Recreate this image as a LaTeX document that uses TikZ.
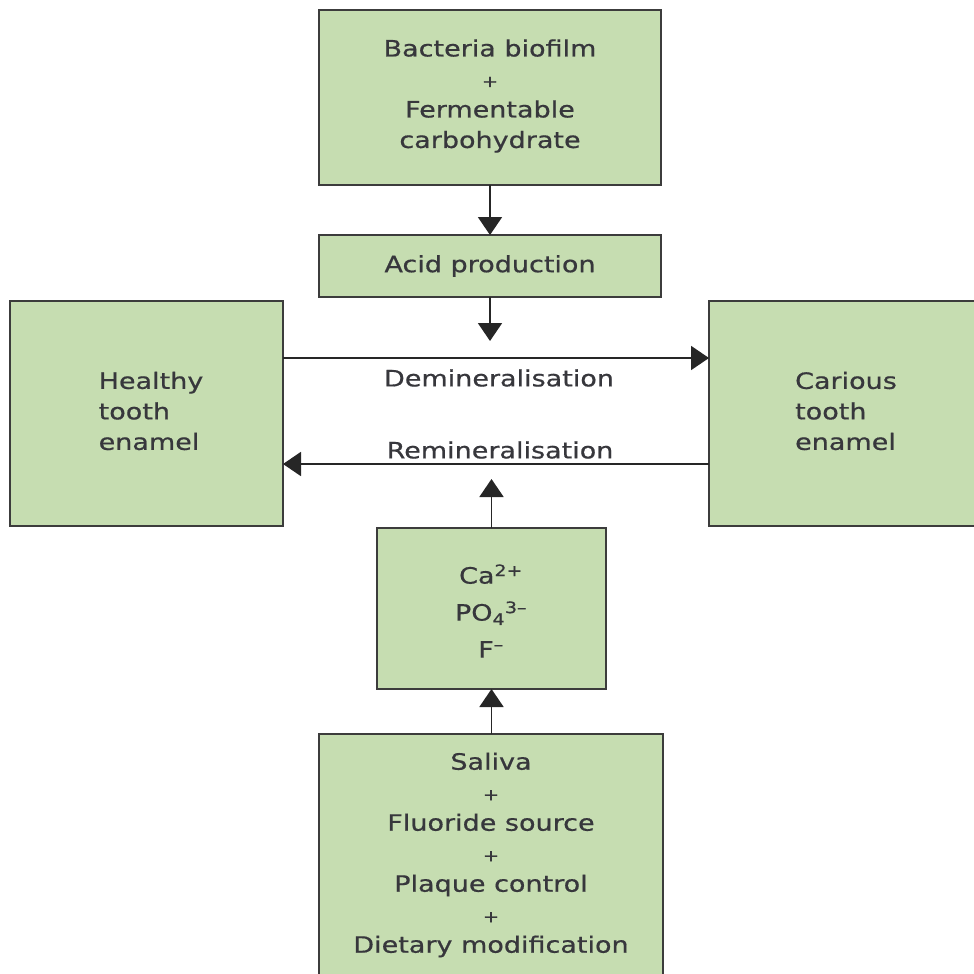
\documentclass[tikz,border=0pt]{standalone}
\usepackage{fontspec}
\setmainfont{DejaVu Sans}[FakeStretch=1.2, FakeBold=0.6]
\usetikzlibrary{arrows.meta}
\definecolor{boxfill}{RGB}{198,221,177}
\definecolor{boxline}{RGB}{60,60,60}
\definecolor{txt}{RGB}{55,55,60}
\tikzset{
  gbox/.style={draw=boxline, line width=2.2pt, fill=boxfill, inner sep=0pt, outer sep=0pt},
  lbl/.style={text=txt, font=\fontsize{22.5}{30.5}\selectfont, inner sep=0pt},
  arr/.style={draw=black!85, line width=1.9pt, -{Triangle[width=24pt,length=18pt]}},
}
\newcommand{\plusline}{{\fontsize{16}{30}\selectfont +}}
\begin{document}
\begin{tikzpicture}[x=1pt,y=-1pt]
\useasboundingbox (0,0) rectangle (974,974);
\clip (0,0) rectangle (974,974);
% boxes
\node[gbox, minimum width=342pt, minimum height=175pt] (top) at (490,97.5) {};
\node[gbox, minimum width=342pt, minimum height=62pt] (acid) at (490,266) {};
\node[gbox, minimum width=273pt, minimum height=225pt] (healthy) at (146.5,413.5) {};
\node[gbox, minimum width=274pt, minimum height=225pt] (carious) at (846,413.5) {};
\node[gbox, minimum width=229pt, minimum height=161pt] (ca) at (491.5,608.5) {};
\node[gbox, minimum width=344pt, minimum height=270pt] (bottom) at (491,869) {};
% texts
\node[lbl, align=center] (toptxt) at (490,96) {Bacteria biofilm\\ \plusline\\ Fermentable\\ carbohydrate};
\node[lbl] (acidtxt) at (490,266) {Acid production};
\node[lbl, align=left] (healthytxt) at (151,411) {Healthy\\ tooth\\ enamel};
\node[lbl, align=left] (carioustxt) at (846,411) {Carious\\ tooth\\ enamel};
\node[lbl, align=center, font=\fontsize{22.5}{37}\selectfont] (catxt) at (491,611) {Ca\textsuperscript{2+}\\ PO\textsubscript{4}\textsuperscript{3–}\\ F\textsuperscript{–}};
\node[lbl, align=center] (bottxt) at (491,855) {Saliva\\ \plusline\\ Fluoride source\\ \plusline\\ Plaque control\\ \plusline\\ Dietary modification};
\node[lbl] (demin) at (499,378) {Demineralisation};
\node[lbl] (remin) at (500,450) {Remineralisation};
% connectors
\coordinate (dm) at (0,358);
\coordinate (rm) at (0,464);
\coordinate (acidend) at (490,341);
\coordinate (caend) at (491.5,479);
\draw[arr] (top.south) -- (acid.north);
\draw[arr] (acid.south) -- (acidend);
\draw[arr] (healthy.east |- dm) -- (carious.west |- dm);
\draw[arr] (carious.west |- rm) -- (healthy.east |- rm);
\draw[arr] (ca.north) -- (caend);
\draw[arr] (bottom.north -| ca.south) -- (ca.south);
\end{tikzpicture}
\end{document}
